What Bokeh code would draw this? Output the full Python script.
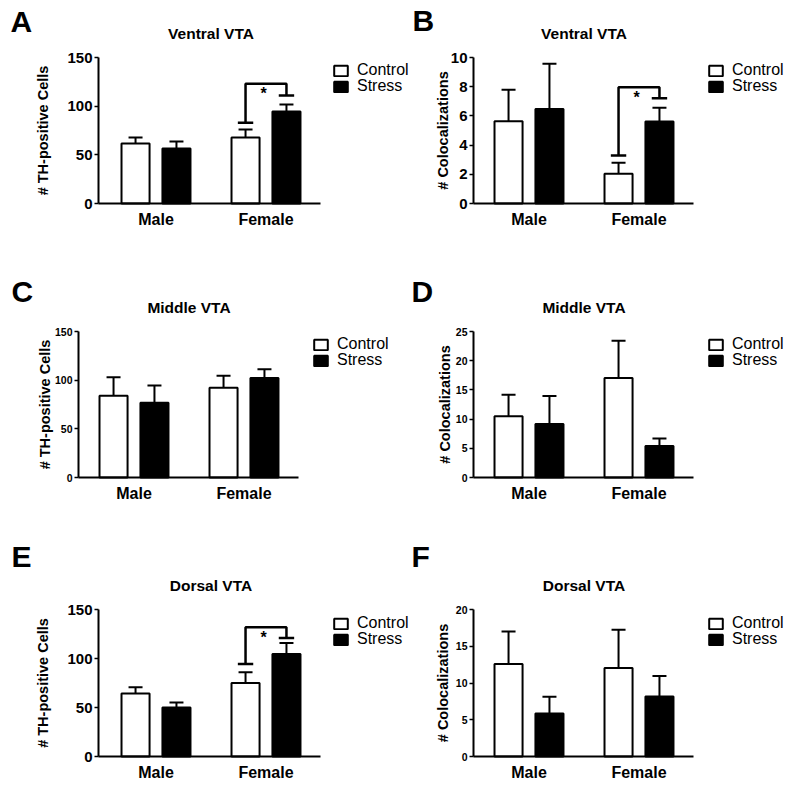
from bokeh.plotting import figure
from bokeh.models import (Range1d, FixedTicker, Label, Legend, LegendItem,
                          Whisker, TeeHead, ColumnDataSource)
from bokeh.layouts import column, row
from bokeh.embed import file_html
from bokeh.resources import INLINE

# ---------------- data ----------------
sexes = ["Male", "Female"]
groups = ["Control", "Stress"]

# A: Ventral VTA, # TH-positive cells
a_ctrl = [61.6, 67.8]
a_ctrl_sem = [6.2, 8.2]
a_stress = [56.5, 94.5]
a_stress_sem = [7.2, 7.2]
a_bracket = [83.0, 123.0, 111.0]   # left end, top, right end

# B: Ventral VTA, # colocalizations
b_ctrl = [5.64, 2.03]
b_ctrl_sem = [2.15, 0.76]
b_stress = [6.48, 5.62]
b_stress_sem = [3.09, 0.93]
b_bracket = [3.29, 7.97, 7.21]

# C: Middle VTA, # TH-positive cells
c_ctrl = [84.0, 92.3]
c_ctrl_sem = [19.0, 12.3]
c_stress = [76.9, 102.1]
c_stress_sem = [17.7, 9.2]

# D: Middle VTA, # colocalizations
d_ctrl = [10.47, 17.02]
d_ctrl_sem = [3.71, 6.39]
d_stress = [9.16, 5.4]
d_stress_sem = [4.78, 1.26]

# E: Dorsal VTA, # TH-positive cells
e_ctrl = [64.4, 75.0]
e_ctrl_sem = [6.2, 10.9]
e_stress = [50.1, 104.7]
e_stress_sem = [5.1, 11.2]
e_bracket = [94.5, 131.9, 121.0]

# F: Dorsal VTA, # colocalizations
f_ctrl = [12.6, 12.05]
f_ctrl_sem = [4.4, 5.18]
f_stress = [5.86, 8.18]
f_stress_sem = [2.28, 2.78]

th_ticks = [0, 50, 100, 150]
b_ticks = [0, 2, 4, 6, 8, 10]
d_ticks = [0, 5, 10, 15, 20, 25]
f_ticks = [0, 5, 10, 15, 20]

FONT = "Liberation Sans"
PX_PER_UNIT = 110.0
OFF = 0.186
BAR_W = 0.255

LEFT_END = 411
RIGHT_END = 800


def panel(letter, title, ylabel, ymax, yticks, ctrl, ctrl_sem, stress, stress_sem,
          geom, tick_size, ylab_standoff, letter_pos, bracket=None):
    # col_start / col_end: page x of column; axis_x: page x of y axis;
    # male_c: page x of Male group centre; xaxis_len: x-axis length;
    # row_h: row height; f_top: frame top; zero_y / top_y: row pixel of 0 / ymax
    col_start, col_end, axis_x, male_c, xaxis_len, row_h, f_top, zero_y, top_y = geom
    fw = col_end - col_start
    fh = row_h - f_top
    below = row_h - zero_y
    px_per_val = (zero_y - top_y) / ymax
    x_axis0 = 1 - (male_c - axis_x) / PX_PER_UNIT          # data x of the y axis
    x_lo = x_axis0 - (axis_x - col_start) / PX_PER_UNIT     # data x of column left
    p = figure(title=None, frame_width=fw, frame_height=fh,
               min_border_left=0, min_border_right=0,
               min_border_top=f_top, min_border_bottom=0,
               x_range=Range1d(x_lo, x_lo + fw / PX_PER_UNIT),
               y_range=Range1d(-below / px_per_val, (zero_y - f_top) / px_per_val),
               output_backend="svg", toolbar_location=None)
    p.outline_line_color = None
    p.xgrid.visible = False
    p.ygrid.visible = False
    p.background_fill_color = "white"
    p.border_fill_color = "white"

    pos = [i + 1 for i in range(len(sexes))]
    xc = [x - OFF for x in pos]
    xs = [x + OFF for x in pos]

    src_c = ColumnDataSource(dict(x=xc, top=ctrl,
                                  upper=[m + s for m, s in zip(ctrl, ctrl_sem)]))
    src_s = ColumnDataSource(dict(x=xs, top=stress,
                                  upper=[m + s for m, s in zip(stress, stress_sem)]))

    for src in (src_c, src_s):
        w = Whisker(source=src, base="x", lower="top", upper="upper",
                    line_color="black", line_width=2,
                    lower_head=None,
                    upper_head=TeeHead(size=14, line_color="black", line_width=2))
        p.add_layout(w)

    rc = p.vbar(x="x", top="top", bottom=0, width=BAR_W, source=src_c,
                fill_color="white", line_color="black", line_width=2)
    rs = p.vbar(x="x", top="top", bottom=0, width=BAR_W, source=src_s,
                fill_color="black", line_color="black", line_width=2)

    # x axis, drawn at value 0 inside the frame
    xa = p.xaxis[0]
    xa.fixed_location = 0
    xa.ticker = FixedTicker(ticks=pos)
    xa.major_label_overrides = {pos[i]: sexes[i] for i in range(len(sexes))}
    xa.bounds = (x_axis0, x_axis0 + xaxis_len / PX_PER_UNIT)
    xa.major_tick_out = 0
    xa.major_tick_in = 0
    xa.minor_tick_out = 0
    xa.minor_tick_in = 0
    xa.major_label_standoff = 7
    xa.major_label_text_font = FONT
    xa.major_label_text_font_style = "bold"
    xa.major_label_text_font_size = "16px"
    xa.major_label_text_color = "black"
    xa.axis_line_width = 2
    xa.axis_line_color = "black"

    # y axis, drawn at the data position of the axis inside the frame
    ya = p.yaxis[0]
    ya.fixed_location = x_axis0
    ya.ticker = FixedTicker(ticks=yticks)
    ya.bounds = (0, ymax)
    ya.major_tick_out = 4
    ya.major_tick_in = 0
    ya.minor_tick_out = 0
    ya.minor_tick_in = 0
    ya.major_tick_line_width = 1.5
    ya.major_label_standoff = 2
    ya.major_label_text_font = FONT
    ya.major_label_text_font_style = "bold"
    ya.major_label_text_font_size = tick_size
    ya.major_label_text_color = "black"
    ya.axis_line_width = 2
    ya.axis_line_color = "black"
    ya.axis_label = ylabel
    ya.axis_label_text_font = FONT
    ya.axis_label_text_font_style = "bold"
    ya.axis_label_text_font_size = "14.5px"
    ya.axis_label_text_color = "black"
    ya.axis_label_standoff = ylab_standoff

    # panel title
    p.add_layout(Label(x=1.5, y=ymax, y_offset=33, text=title,
                       text_align="center", text_baseline="top",
                       text_font=FONT, text_font_style="bold",
                       text_font_size="15.5px", text_color="black"))

    # panel letter
    lx, l_off = letter_pos
    p.add_layout(Label(x=x_lo + lx / PX_PER_UNIT, y=ymax, y_offset=l_off, text=letter,
                       text_align="left", text_baseline="top",
                       text_font=FONT, text_font_style="bold",
                       text_font_size="30px", text_color="black"))

    # legend (one per entry so that row pitch matches); location relative to frame
    H = 18
    lx0 = (axis_x - col_start) + 234
    for lab, r, top_px in ((groups[0], rc, 142), (groups[1], rs, 126)):
        leg = Legend(items=[LegendItem(label=lab, renderers=[r])],
                     location=(lx0, top_px - H + below),
                     glyph_width=17, glyph_height=13, label_standoff=8,
                     label_text_font=FONT, label_text_font_size="16px",
                     label_text_color="black",
                     padding=0, margin=0, spacing=0,
                     border_line_color=None, background_fill_alpha=0)
        p.add_layout(leg)

    # significance bracket
    if bracket is not None:
        lo_l, top, lo_r = bracket
        x_l, x_r = xc[1], xs[1]
        p.line(x=[x_l, x_l, x_r, x_r], y=[lo_l, top, top, lo_r],
               line_color="black", line_width=2.5)
        cap = 0.07
        p.segment(x0=[x_l - cap, x_r - cap], y0=[lo_l, lo_r],
                  x1=[x_l + cap, x_r + cap], y1=[lo_l, lo_r],
                  line_color="black", line_width=2.5)
        p.add_layout(Label(x=pos[1], y=top, x_offset=-2.5, y_offset=-1.5, text="*",
                           text_align="center", text_baseline="top",
                           text_font=FONT, text_font_style="bold",
                           text_font_size="16px", text_color="black"))
    return p


L0, R0 = 0, LEFT_END
# geometry: col_start, col_end, axis x, Male centre x, x-axis length,
#           row height, frame top, row-y of 0, row-y of max
gA = (L0, LEFT_END, 98, 155.5, 222, 265, 2, 203, 57)
gB = (R0, RIGHT_END, 473, 528.5, 220, 265, 2, 203, 57)
gC = (L0, LEFT_END, 78, 133.5, 220, 265, 2, 212, 66)
gD = (R0, RIGHT_END, 473, 528.5, 220, 265, 2, 212, 66)
gE = (L0, LEFT_END, 98, 155.5, 222, 262, 2, 226, 79)
gF = (R0, RIGHT_END, 473, 528.5, 220, 262, 2, 226, 79)

pA = panel("A", "Ventral VTA", "# TH-positive Cells", 150, th_ticks,
           a_ctrl, a_ctrl_sem, a_stress, a_stress_sem, gA, "15px", 13, (10, 52.4), a_bracket)
pB = panel("B", "Ventral VTA", "# Colocalizations", 10, b_ticks,
           b_ctrl, b_ctrl_sem, b_stress, b_stress_sem, gB, "15px", -3, (1, 53.4), b_bracket)
pC = panel("C", "Middle VTA", "# TH-positive Cells", 150, th_ticks,
           c_ctrl, c_ctrl_sem, c_stress, c_stress_sem, gC, "10.5px", -1, (11, 56.4))
pD = panel("D", "Middle VTA", "# Colocalizations", 25, d_ticks,
           d_ctrl, d_ctrl_sem, d_stress, d_stress_sem, gD, "10.5px", 0, (0, 56.1))
pE = panel("E", "Dorsal VTA", "# TH-positive Cells", 150, th_ticks,
           e_ctrl, e_ctrl_sem, e_stress, e_stress_sem, gE, "15px", 13, (11, 69.1), e_bracket)
pF = panel("F", "Dorsal VTA", "# Colocalizations", 20, f_ticks,
           f_ctrl, f_ctrl_sem, f_stress, f_stress_sem, gF, "10.5px", 2, (0, 69.1))

layout = column(row(pA, pB), row(pC, pD), row(pE, pF))

open("out.html", "w").write(file_html(layout, INLINE))
